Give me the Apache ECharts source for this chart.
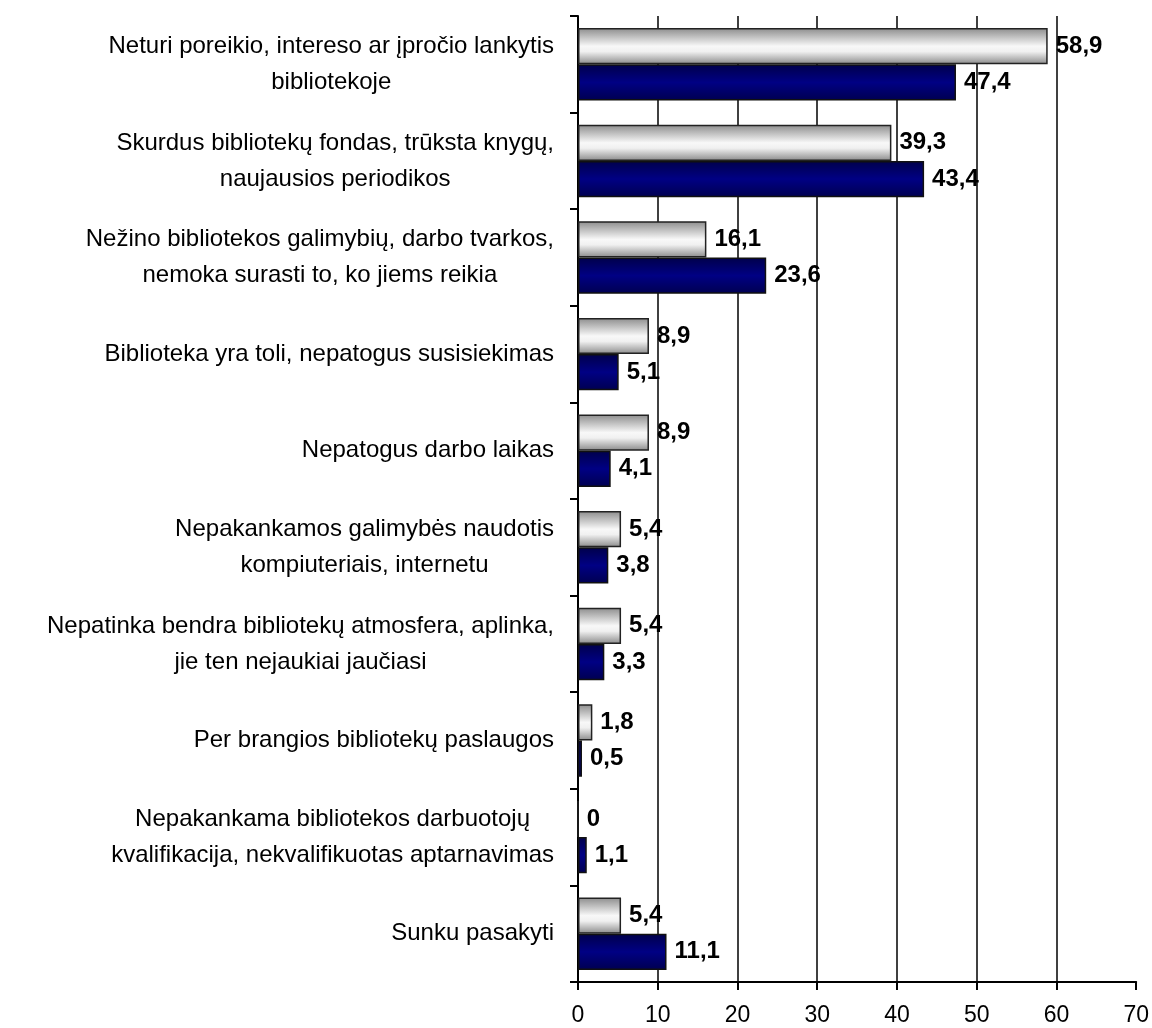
<!DOCTYPE html>
<html>
<head>
<meta charset="utf-8">
<script src="https://cdn.jsdelivr.net/npm/echarts@6/dist/echarts.min.js"></script>
<style>
  html, body { margin: 0; padding: 0; background: #fff; }
  #chart { width: 1152px; height: 1028px; }
</style>
</head>
<body>
<div id="chart"></div>
<script>
// kategorijos (eilutės atskirtos \n)
const categories = [
  "Neturi poreikio, intereso ar įpročio lankytis\nbibliotekoje",
  "Skurdus bibliotekų fondas, trūksta knygų,\nnaujausios periodikos",
  "Nežino bibliotekos galimybių, darbo tvarkos,\nnemoka surasti to, ko jiems reikia",
  "Biblioteka yra toli, nepatogus susisiekimas",
  "Nepatogus darbo laikas",
  "Nepakankamos galimybės naudotis\nkompiuteriais, internetu",
  "Nepatinka bendra bibliotekų atmosfera, aplinka,\njie ten nejaukiai jaučiasi",
  "Per brangios bibliotekų paslaugos",
  "Nepakankama bibliotekos darbuotojų\nkvalifikacija, nekvalifikuotas aptarnavimas",
  "Sunku pasakyti"
];
const silverValues = [58.9, 39.3, 16.1, 8.9, 8.9, 5.4, 5.4, 1.8, 0, 5.4];
const navyValues = [47.4, 43.4, 23.6, 5.1, 4.1, 3.8, 3.3, 0.5, 1.1, 11.1];

const FONT = "'Liberation Sans', Arial, sans-serif";

const chart = echarts.init(document.getElementById("chart"));

function valueLabel() {
  return {
    show: true,
    position: "right",
    distance: 8,
    color: "#000",
    fontFamily: FONT,
    fontWeight: "bold",
    fontSize: 24,
    formatter: (p) => String(p.value).replace(".", ",")
  };
}

const option = {
  animation: false,
  backgroundColor: "#fff",
  grid: { left: 578, right: 15, top: 16, bottom: 46 },
  xAxis: {
    type: "value",
    min: 0,
    max: 70,
    interval: 10,
    axisLine: { show: true, lineStyle: { color: "#000", width: 2 } },
    axisTick: { show: true, length: 8, lineStyle: { color: "#000", width: 2 } },
    axisLabel: { color: "#000", fontFamily: FONT, fontSize: 23, margin: 22 },
    splitLine: {
      show: true,
      showMinLine: false,
      showMaxLine: false,
      lineStyle: { color: "#000", width: 1.5, type: "solid" }
    }
  },
  yAxis: {
    type: "category",
    inverse: true,
    data: categories,
    axisLine: { show: true, lineStyle: { color: "#000", width: 2 } },
    axisTick: { show: true, length: 8, lineStyle: { color: "#000", width: 2 } },
    axisLabel: {
      margin: 24,
      align: "right",
      formatter: (v) => v.split("\n").map((s) => "{c|" + s + "}").join("\n"),
      rich: {
        c: { align: "center", color: "#000", fontFamily: FONT, fontSize: 24, lineHeight: 36 }
      }
    }
  },
  series: [
    {
      name: "A",
      type: "bar",
      data: silverValues,
      barGap: "0%",
      barCategoryGap: "25%",
      itemStyle: {
        borderColor: "#222",
        borderWidth: 1.5,
        color: new echarts.graphic.LinearGradient(0, 0, 0, 1, [
          { offset: 0, color: "#8c8c8c" },
          { offset: 0.5, color: "#f8f8f8" },
          { offset: 0.65, color: "#f0f0f0" },
          { offset: 1, color: "#8a8a8a" }
        ])
      },
      label: valueLabel()
    },
    {
      name: "B",
      type: "bar",
      data: navyValues,
      barGap: "0%",
      barCategoryGap: "25%",
      itemStyle: {
        borderColor: "#111",
        borderWidth: 1.5,
        color: new echarts.graphic.LinearGradient(0, 0, 0, 1, [
          { offset: 0, color: "#00004a" },
          { offset: 0.5, color: "#000084" },
          { offset: 1, color: "#000050" }
        ])
      },
      label: valueLabel()
    }
  ]
};

chart.setOption(option);
</script>
</body>
</html>
